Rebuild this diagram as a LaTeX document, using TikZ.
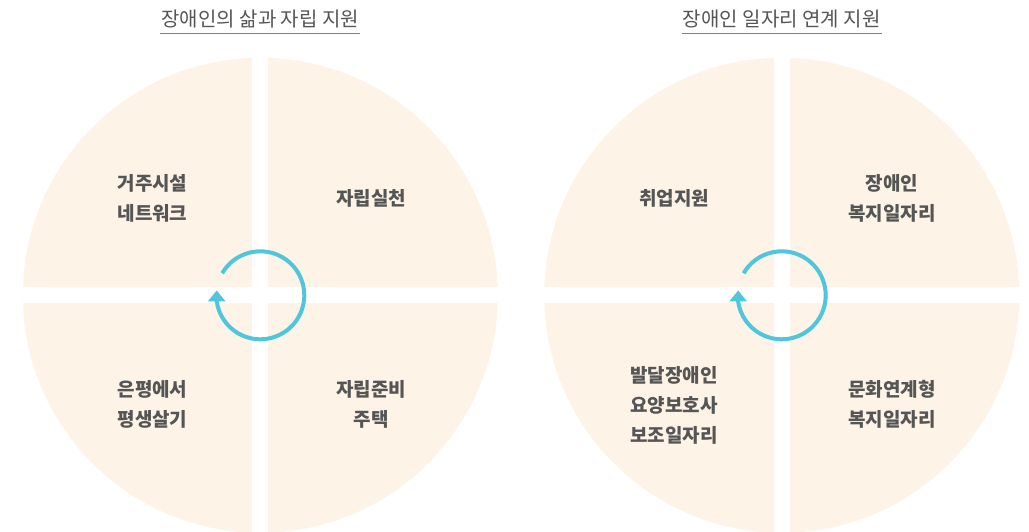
\documentclass[tikz,border=0pt]{standalone}
\usepackage{fontspec}
\usetikzlibrary{arrows.meta}
\newfontfamily\kr{Noto Sans CJK KR}
\definecolor{quadfill}{HTML}{FDF3E7}
\definecolor{cycblue}{HTML}{4FC6DB}
\definecolor{txtgray}{HTML}{555555}
\tikzset{
  quadlabel/.style={font=\kr\bfseries\fontsize{19}{30}\selectfont, text=txtgray, align=center},
  ttl/.style={font=\kr\fontsize{20}{24}\selectfont, text=txtgray, anchor=base, inner xsep=1pt},
  cyclearrow/.style={cycblue, line width=4pt, -{Triangle[length=11pt,width=17pt]}}
}
\begin{document}
\begin{tikzpicture}[x=1pt,y=1pt]
\useasboundingbox (0,0) rectangle (1029,-532);
% two circles cut in four
\foreach \cx/\nm in {260.3/L,781.7/R}{
  \coordinate (c\nm) at (\cx,-295.3);
  \fill[quadfill] (c\nm) circle (237.5);
  \fill[white] (\cx-8,-50) rectangle (\cx+8,-540);
  \fill[white] (\cx-240,-287.3) rectangle (\cx+240,-303.3);
  \draw[cyclearrow] ([shift={(150:44)}]c\nm) arc[start angle=150,end angle=-172,radius=44] -- ++(0,11);
}
% titles
\node[ttl] (tL) at (260.3,-26.5) {장애인의 삶과 자립 지원};
\node[ttl] (tR) at (781.7,-26.5) {장애인 일자리 연계 지원};
\draw[gray, line width=1.2pt] ([yshift=-7pt]tL.base west) -- ([yshift=-7pt]tL.base east);
\draw[gray, line width=1.2pt] ([yshift=-7pt]tR.base west) -- ([yshift=-7pt]tR.base east);
% left circle
\node[quadlabel] (qL1) at (152.5,-198) {거주시설\\네트워크};
\node[quadlabel] (qL2) at (371,-198) {자립실천};
\node[quadlabel] (qL3) at (152.5,-404) {은평에서\\평생살기};
\node[quadlabel] (qL4) at (371,-404) {자립준비\\주택};
% right circle
\node[quadlabel] (qR1) at (674,-198) {취업지원};
\node[quadlabel] (qR2) at (892,-198) {장애인\\복지일자리};
\node[quadlabel] (qR3) at (674,-405) {발달장애인\\요양보호사\\보조일자리};
\node[quadlabel] (qR4) at (892,-404) {문화연계형\\복지일자리};
\end{tikzpicture}
\end{document}
